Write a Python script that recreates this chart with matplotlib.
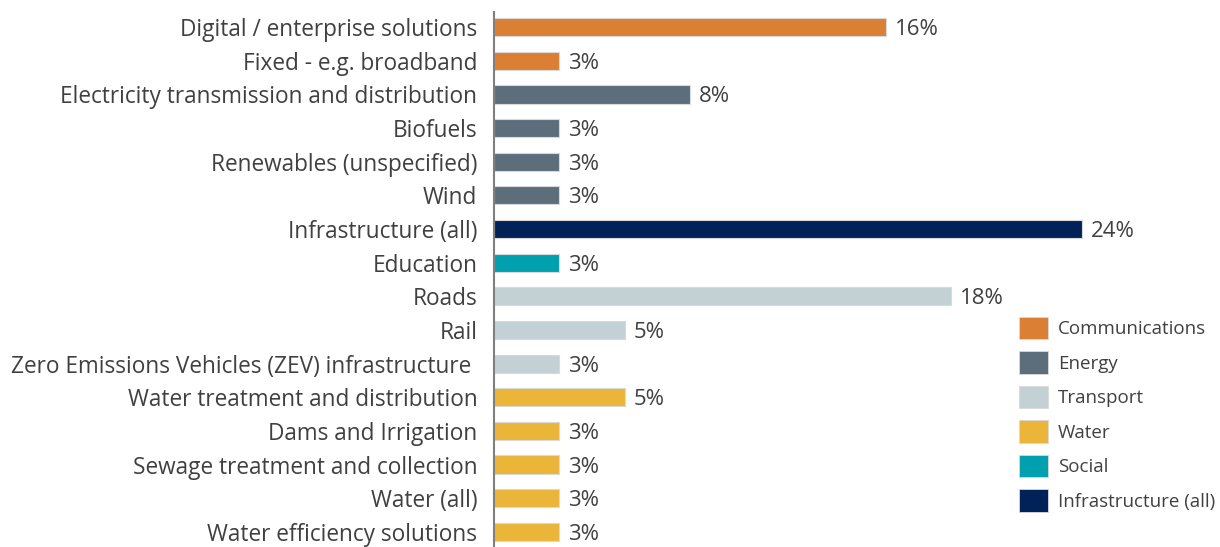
import matplotlib
matplotlib.use('Agg')
import matplotlib.pyplot as plt
from matplotlib.patches import Patch

plt.rcParams['font.family'] = ['Open Sans', 'DejaVu Sans']

# data (share of respondents, %)
labels = ['Digital / enterprise solutions', 'Fixed - e.g. broadband',
          'Electricity transmission and distribution', 'Biofuels',
          'Renewables (unspecified)', 'Wind', 'Infrastructure (all)',
          'Education', 'Roads', 'Rail',
          'Zero Emissions Vehicles (ZEV) infrastructure ',
          'Water treatment and distribution', 'Dams and Irrigation',
          'Sewage treatment and collection', 'Water (all)',
          'Water efficiency solutions']
values = [16.2, 2.7, 8.1, 2.7, 2.7, 2.7, 24.3, 2.7, 18.9, 5.4, 2.7, 5.4, 2.7, 2.7, 2.7, 2.7]
value_text = ['16%', '3%', '8%', '3%', '3%', '3%', '24%', '3%', '18%', '5%', '3%', '5%', '3%', '3%', '3%', '3%']
sectors = ['Communications', 'Communications', 'Energy', 'Energy', 'Energy', 'Energy',
           'Infrastructure (all)', 'Social', 'Transport', 'Transport', 'Transport',
           'Water', 'Water', 'Water', 'Water', 'Water']

legend_order = ['Communications', 'Energy', 'Transport', 'Water', 'Social', 'Infrastructure (all)']
colours = {'Communications': '#DA7F33', 'Energy': '#5C6E7C', 'Transport': '#C3D1D5',
           'Water': '#EBB53A', 'Social': '#00A0AE', 'Infrastructure (all)': '#012259'}
txt = '#404040'

fig = plt.figure(figsize=(12.2, 5.47), dpi=100)
ax = fig.add_axes([0.405, 0.0, 0.595, 0.978])

ypos = list(range(len(labels)))
bars = ax.barh(ypos, values, height=0.54, color=[colours[s] for s in sectors],
               edgecolor='#D9D9D9', linewidth=0.8)

for y, v, t in zip(ypos, values, value_text):
    ax.text(v + 0.35, y, t, va='center_baseline', ha='left', fontsize=16, color=txt)

ax.set_xlim(0, 30)
ax.set_ylim(15.45, -0.45)
ax.set_yticks(ypos)
ax.set_yticklabels(labels, fontsize=16.3, color=txt, va='center_baseline')
ax.tick_params(axis='y', length=0, pad=12)
ax.set_xticks([])
for side in ['top', 'right', 'bottom']:
    ax.spines[side].set_visible(False)
ax.spines['left'].set_color('#7F7F7F')
ax.spines['left'].set_linewidth(1.5)

handles = [Patch(facecolor=colours[s], edgecolor='#D9D9D9', linewidth=0.6, label=s)
           for s in legend_order]
fig.legend(handles=handles, loc='upper left', bbox_to_anchor=(0.8295, 0.435),
           frameon=False, fontsize=13.5, labelcolor=txt, handlelength=1.5,
           handleheight=1.5, handletextpad=0.55, labelspacing=0.62, borderaxespad=0)

fig.savefig('out.png', dpi=100)
